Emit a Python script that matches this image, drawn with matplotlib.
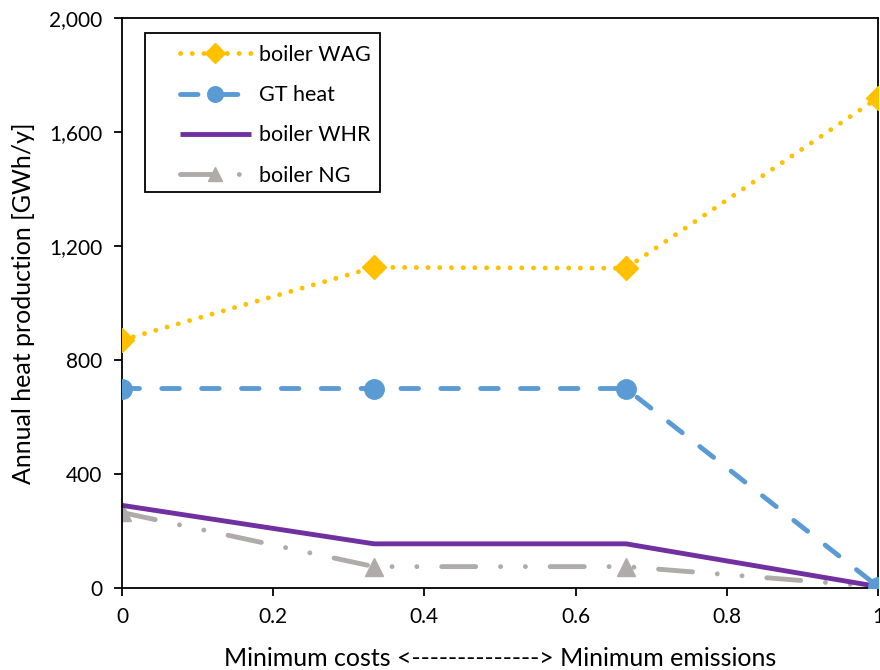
import numpy as np
import matplotlib.pyplot as plt
from matplotlib.patches import Rectangle
from matplotlib.ticker import FuncFormatter

# data
x = [0, 1/3, 2/3, 1]
boiler_wag = [870, 1125, 1122, 1720]
gt_heat = [700, 700, 700, 5]
boiler_whr = [290, 155, 155, 5]
boiler_ng = [265, 75, 75, 5]
x_ticks = [0, 0.2, 0.4, 0.6, 0.8, 1]
y_ticks = [0, 400, 800, 1200, 1600, 2000]

plt.rcParams.update({"font.family": ["Lato", "DejaVu Sans"], "font.size": 15})

fig = plt.figure(figsize=(8.8, 6.7), dpi=100)
ax = fig.add_axes([0.1386, 0.1224, 0.8591, 0.8507])

lw = 3.5
ax.plot(x, boiler_wag, color="#FFC000", lw=lw, dashes=(0.01, 2.4),
        dash_capstyle="round", marker="D", ms=12.5, label="boiler WAG", zorder=4)
ax.plot(x, gt_heat, color="#5B9BD5", lw=lw, dashes=(3.6, 4.6),
        dash_capstyle="round", marker="o", ms=14, label="GT heat", zorder=3)
ax.plot(x, boiler_whr, color="#7030A0", lw=lw, solid_capstyle="butt",
        label="boiler WHR", zorder=2)
ax.plot(x, boiler_ng, color="#AFABAB", lw=lw,
        dashes=(7, 5.1, 0.01, 5.1, 0.01, 5.1), dash_capstyle="round",
        marker="^", ms=13, label="boiler NG", zorder=1)

ax.set_xlim(0, 1)
ax.set_ylim(0, 2000)
ax.set_xticks(x_ticks)
ax.set_xticklabels(["0", "0.2", "0.4", "0.6", "0.8", "1"])
ax.set_yticks(y_ticks)
ax.yaxis.set_major_formatter(FuncFormatter(lambda v, p: f"{int(v):,}"))
ax.tick_params(direction="out", length=6, width=1.3, pad=8, labelsize=15)
for s in ax.spines.values():
    s.set_linewidth(1.3)
ax.set_xlabel("Minimum costs <--------------> Minimum emissions", fontsize=18, labelpad=14)
ax.set_ylabel("Annual heat production [GWh/y]", fontsize=18, labelpad=10)

# legend without its own frame, boxed by a rectangle like the original
leg = ax.legend(loc="upper left", bbox_to_anchor=(0.0765, 0.953), fontsize=15.5,
                frameon=False, handlelength=3.3, handletextpad=0.4,
                labelspacing=0.94, borderpad=0, borderaxespad=0, markerscale=0.8)
ax.add_patch(Rectangle((0.0304, 0.6947), 0.3109, 0.279, transform=ax.transAxes,
                       fill=False, edgecolor="black", lw=1.3, zorder=5))

fig.savefig("out.png", dpi=100, facecolor="white")
